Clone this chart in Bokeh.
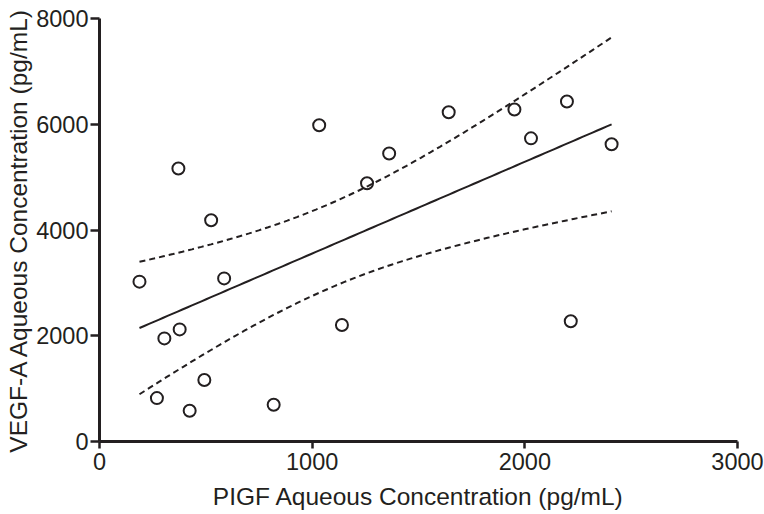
from bokeh.plotting import figure
from bokeh.models import Range1d, FixedTicker
from bokeh.embed import file_html
from bokeh.resources import INLINE
import numpy as np

# PlGF (x) and VEGF-A (y) aqueous concentrations, pg/mL
plgf = [188, 270, 305, 371, 377, 424, 493, 525, 586, 819,
        1033, 1140, 1258, 1362, 1642, 1951, 2029, 2198, 2216, 2408]
vegf = [3023, 821, 1950, 5162, 2120, 581, 1162, 4183, 3085, 695,
        5981, 2203, 4884, 5446, 6228, 6279, 5733, 6430, 2275, 5622]

x_ticks = [0, 1000, 2000, 3000]
y_ticks = [0, 2000, 4000, 6000, 8000]

# linear regression with 95% confidence band
x = np.array(plgf, dtype=float)
y = np.array(vegf, dtype=float)
n = len(x)
slope, intercept = np.polyfit(x, y, 1)
xf = np.linspace(x.min(), x.max(), 100)
yf = intercept + slope * xf
resid = y - (intercept + slope * x)
s = np.sqrt(np.sum(resid ** 2) / (n - 2))
sxx = np.sum((x - x.mean()) ** 2)
t_crit = 2.1009  # t(0.975, df=18)
half = t_crit * s * np.sqrt(1.0 / n + (xf - x.mean()) ** 2 / sxx)

INK = "#231f20"
FONT = "Liberation Sans"

p = figure(width=764, height=514, output_backend="svg", toolbar_location=None,
           x_range=Range1d(0, 3000), y_range=Range1d(0, 8000),
           min_border_left=99, min_border_right=27, min_border_top=18, min_border_bottom=73)
p.outline_line_color = None
p.xgrid.grid_line_color = None
p.ygrid.grid_line_color = None
p.background_fill_color = "white"
p.border_fill_color = "white"

p.line(xf, yf, line_color=INK, line_width=2)
p.line(xf, yf + half, line_color=INK, line_width=2, line_dash="6 4")
p.line(xf, yf - half, line_color=INK, line_width=2, line_dash="6 4")
p.scatter(plgf, vegf, marker="circle", size=12, fill_color=None,
          line_color=INK, line_width=2)

for ax, ticks in ((p.xaxis[0], x_ticks), (p.yaxis[0], y_ticks)):
    ax.ticker = FixedTicker(ticks=ticks)
    ax.minor_tick_line_color = None
    ax.axis_line_width = 3
    ax.axis_line_color = INK
    ax.major_tick_line_width = 2.5
    ax.major_tick_line_color = INK
    ax.major_tick_in = 0
    ax.major_label_text_font = FONT
    ax.major_label_text_font_size = "23.5px"
    ax.major_label_text_color = INK
    ax.axis_label_text_font = FONT
    ax.axis_label_text_font_size = "24.5px"
    ax.axis_label_text_font_style = "normal"
    ax.axis_label_text_color = INK

p.xaxis[0].axis_label = "PIGF Aqueous Concentration (pg/mL)"
p.yaxis[0].axis_label = "VEGF-A Aqueous Concentration (pg/mL)"
p.xaxis[0].major_tick_out = 7
p.yaxis[0].major_tick_out = 9
p.xaxis[0].major_label_standoff = 4
p.yaxis[0].major_label_standoff = 2
p.xaxis[0].axis_label_standoff = 10
p.yaxis[0].axis_label_standoff = 1

open("out.html", "w").write(file_html(p, INLINE))
